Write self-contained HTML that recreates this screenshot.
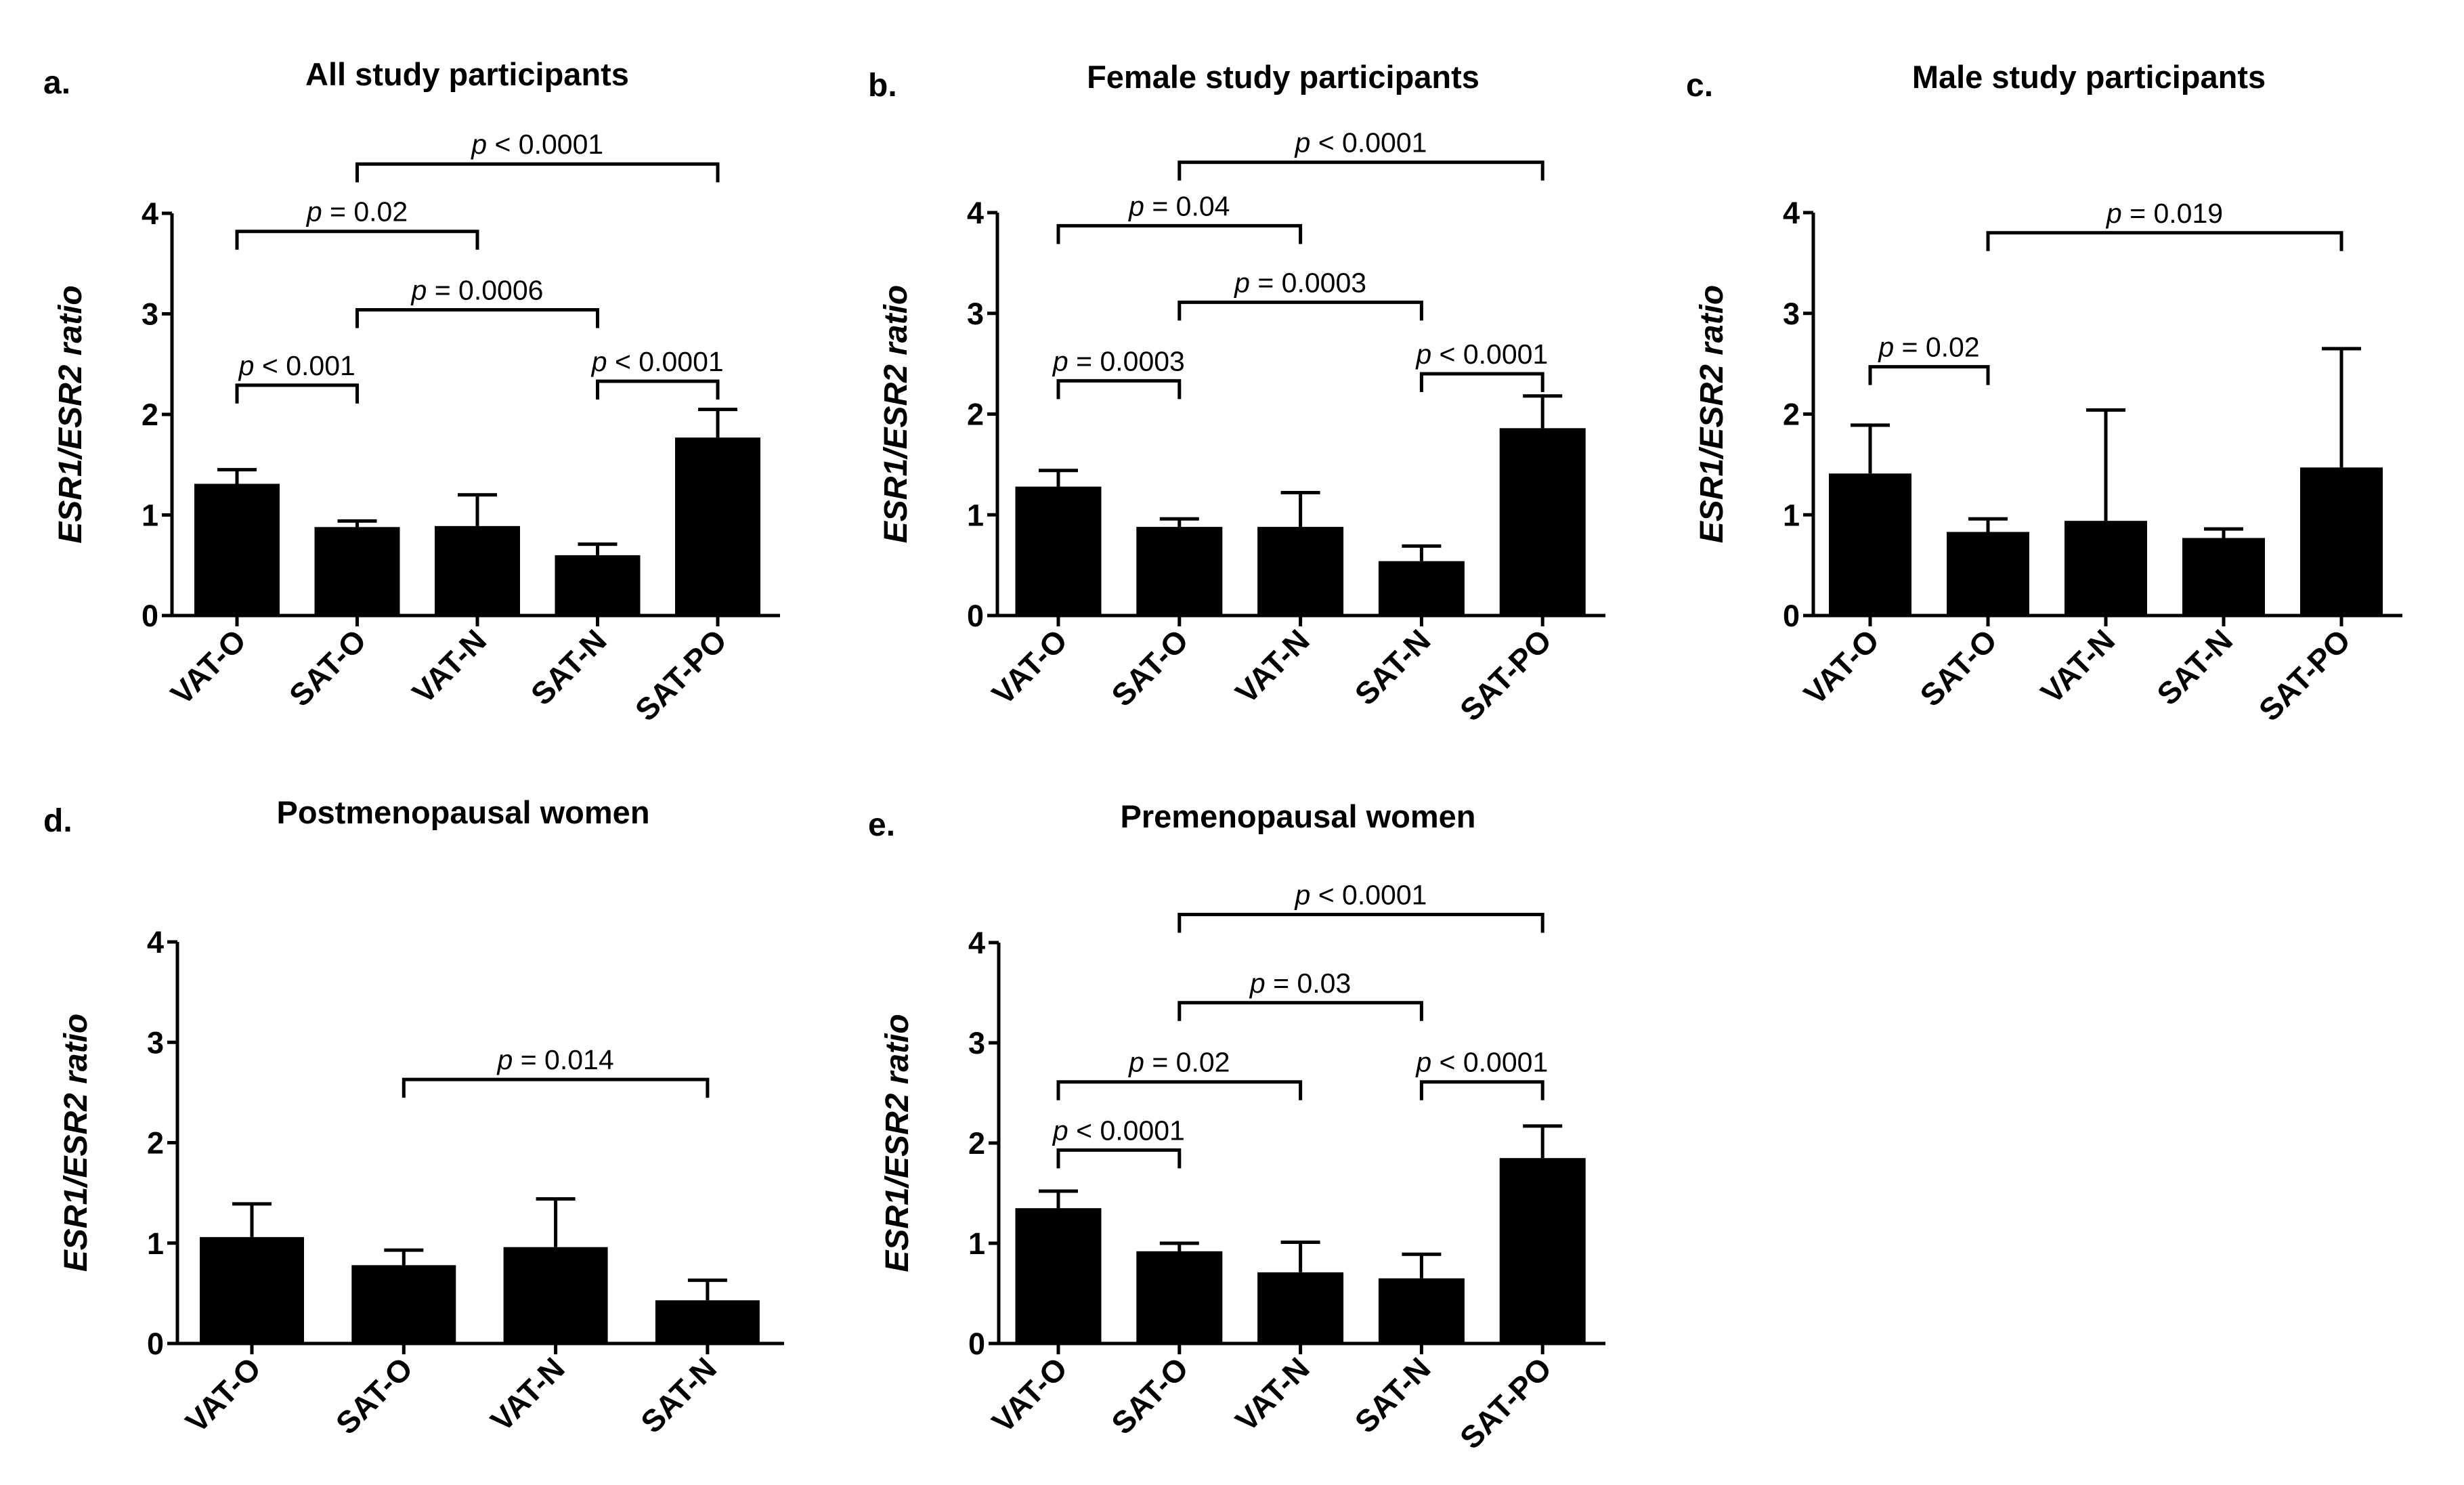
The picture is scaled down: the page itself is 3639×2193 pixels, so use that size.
<!DOCTYPE html>
<html><head><meta charset="utf-8"><style>
html,body{margin:0;padding:0;background:#fff}
svg{display:block}
text{font-family:"Liberation Sans",Arial,sans-serif;fill:#000}
</style></head><body>
<svg id="fig" width="3639" height="2193" viewBox="0 0 3639 2193" xmlns="http://www.w3.org/2000/svg"></svg>
<script>
const catsA = ["VAT-O","SAT-O","VAT-N","SAT-N","SAT-PO"];
const catsD = ["VAT-O","SAT-O","VAT-N","SAT-N"];
const yTicks = [0,1,2,3,4];
const valsA = [1.31,0.88,0.89,0.60,1.77];
const errA  = [1.45,0.94,1.20,0.71,2.05];
const valsB = [1.28,0.88,0.88,0.54,1.86];
const errB  = [1.44,0.96,1.22,0.69,2.18];
const valsC = [1.41,0.83,0.94,0.77,1.47];
const errC  = [1.89,0.96,2.04,0.86,2.65];
const valsD = [1.06,0.78,0.96,0.43];
const errD  = [1.39,0.93,1.44,0.63];
const valsE = [1.35,0.92,0.71,0.65,1.85];
const errE  = [1.52,1.00,1.01,0.89,2.17];
// brackets: [fromIndex, toIndex, level, label]
const brA = [[0,1,2.29,"< 0.001"],[0,2,3.82,"= 0.02"],[1,3,3.04,"= 0.0006"],[3,4,2.33,"< 0.0001"],[1,4,4.49,"< 0.0001"]];
const brB = [[0,1,2.33,"= 0.0003"],[0,2,3.87,"= 0.04"],[1,3,3.11,"= 0.0003"],[3,4,2.40,"< 0.0001"],[1,4,4.50,"< 0.0001"]];
const brC = [[0,1,2.47,"= 0.02"],[1,4,3.80,"= 0.019"]];
const brD = [[1,3,2.63,"= 0.014"]];
const brE = [[0,1,1.93,"< 0.0001"],[0,2,2.61,"= 0.02"],[1,3,3.40,"= 0.03"],[3,4,2.61,"< 0.0001"],[1,4,4.28,"< 0.0001"]];

const NS="http://www.w3.org/2000/svg";
const svg=document.getElementById('fig');
function mk(tag,attrs,parent){const e=document.createElementNS(NS,tag);for(const k in attrs)e.setAttribute(k,attrs[k]);(parent||svg).appendChild(e);return e;}

function panel(id,letter,title,cfg,cats,vals,errs,brs){
  const g=mk('g',{});
  
  
  const x0=cfg.x0,x1=cfg.x1,y0=cfg.y0,y4=cfg.y4;
  const unit=(y0-y4)/4;
  const yS=v=>y0-v*unit;
  const xS=i=>x0+cfg.off+i*cfg.sp;
  const bw=cfg.bw;
  let t=mk('text',{x:cfg.lx,y:cfg.ty+12,'font-size':48,'font-weight':'bold'},g);t.textContent=letter;
  
  t=mk('text',{x:cfg.tx,y:cfg.ty,'font-size':47,'font-weight':'bold','text-anchor':'middle'},g);t.textContent=title;
  
  t=mk('text',{x:0,y:0,'font-size':48,'font-weight':'bold','font-style':'italic','text-anchor':'middle',transform:`translate(${x0-134},${(y0+y4)/2}) rotate(-90)`},g);
  t.textContent='ESR1/ESR2 ratio';
  
  cats.forEach((c,i)=>{
    const cx=xS(i);
    const r=mk('rect',{x:cx-bw/2,y:yS(vals[i]),width:bw,height:y0-yS(vals[i]),fill:'#000'},g);
    
    const l=mk('path',{d:`M${cx},${yS(vals[i])}V${yS(errs[i])}M${cx-29},${yS(errs[i])}H${cx+29}`,stroke:'#000','stroke-width':5,fill:'none'},g);
    
    mk('line',{x1:cx,y1:y0,x2:cx,y2:y0+16,stroke:'#000','stroke-width':5},g);
    const tl=mk('text',{x:0,y:0,'font-size':46,'font-weight':'bold','text-anchor':'end',transform:`translate(${cx+16},${y0+40}) rotate(-45)`},g);
    tl.textContent=c;
    
  });
  const ax=mk('path',{d:`M${x0},${y4}V${y0}H${x1}`,stroke:'#000','stroke-width':5,fill:'none'},g);
  
  yTicks.forEach(v=>{
    mk('line',{x1:x0-15,y1:yS(v),x2:x0,y2:yS(v),stroke:'#000','stroke-width':5},g);
    const tt=mk('text',{x:x0-20,y:yS(v)+16,'font-size':45,'font-weight':'bold','text-anchor':'end'},g);
    tt.textContent=v;
    
  });
  brs.forEach(b=>{
    const xa=xS(b[0]),xb=xS(b[1]),yb=yS(b[2]);
    const p=mk('path',{d:`M${xa},${yb+27}V${yb}H${xb}V${yb+27}`,stroke:'#000','stroke-width':5,fill:'none'},g);
    
    const tx=mk('text',{x:(xa+xb)/2,y:yb-15,'font-size':41,'text-anchor':'middle'},g);
    
    const ts=mk('tspan',{'font-style':'italic'},tx);ts.textContent='p';
    const ts2=mk('tspan',{},tx);ts2.textContent=' '+b[3];
  });
}
panel('a','a.','All study participants',{x0:254,x1:1152,y0:909,y4:315,off:96,sp:177.5,bw:126,lx:64,tx:690,ty:126},catsA,valsA,errA,brA);
panel('b','b.','Female study participants',{x0:1473,x1:2371,y0:909,y4:314,off:90,sp:178.8,bw:127,lx:1282,tx:1895,ty:130},catsA,valsB,errB,brB);
panel('c','c.','Male study participants',{x0:2678,x1:3548,y0:909,y4:314,off:84,sp:174,bw:122,lx:2490,tx:3085,ty:130},catsA,valsC,errC,brC);
panel('d','d.','Postmenopausal women',{x0:262,x1:1158,y0:1984,y4:1391,off:110,sp:224.3,bw:154,lx:64,tx:684,ty:1216},catsD,valsD,errD,brD);
panel('e','e.','Premenopausal women',{x0:1475,x1:2371,y0:1984,y4:1392,off:88,sp:178.8,bw:127,lx:1282,tx:1917,ty:1222},catsA,valsE,errE,brE);
</script>
</body></html>
